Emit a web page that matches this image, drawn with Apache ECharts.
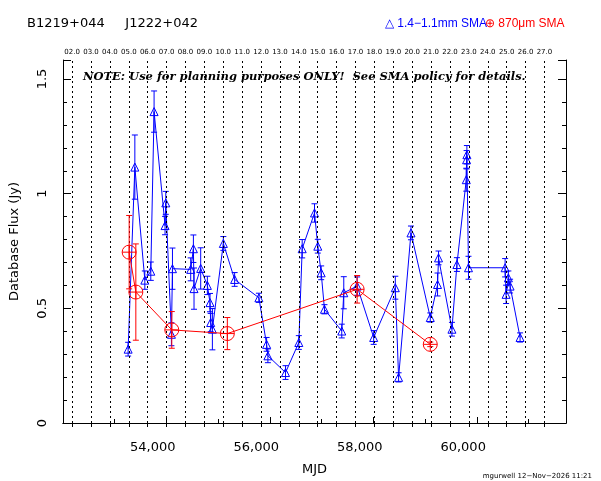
<!DOCTYPE html>
<html><head><meta charset="utf-8">
<script src="https://cdn.jsdelivr.net/npm/echarts@6/dist/echarts.min.js"></script>
<style>html,body{margin:0;padding:0;background:#fff}#c{width:601px;height:481px}</style>
</head><body><div id="c"></div>
<script>
const blueMJD = [53523,53653,53846,53961,54025,54237,54251,54360,54380,54733,54785,54797,54926,55055,55106,55119,55152,55364,55582,56051,56200,56225,56566,56823,56888,57126,57190,57255,57319,57653,57692,57950,58270,58688,58752,58991,59364,59505,59524,59783,59879,60060,60066,60072,60103,60811,60830,60874,60907,61100];
const blueFlux = [0.322,1.116,0.623,0.662,1.358,0.861,0.96,0.387,0.673,0.67,0.76,0.586,0.674,0.6,0.525,0.438,0.409,0.783,0.626,0.546,0.343,0.293,0.22,0.351,0.76,0.916,0.771,0.655,0.496,0.401,0.568,0.597,0.373,0.59,0.199,0.829,0.46,0.604,0.72,0.409,0.691,1.061,1.148,1.17,0.677,0.677,0.561,0.633,0.597,0.373];
const blueErr = [0.03,0.14,0.04,0.04,0.09,0.04,0.05,0.05,0.09,0.05,0.06,0.09,0.09,0.04,0.04,0.04,0.09,0.03,0.03,0.02,0.03,0.03,0.03,0.03,0.04,0.04,0.03,0.03,0.02,0.03,0.07,0.04,0.03,0.05,0.02,0.03,0.02,0.05,0.03,0.03,0.03,0.05,0.04,0.04,0.05,0.04,0.04,0.03,0.03,0.02];
const redMJD = [53543,53672,54367,55441,57950,59364];
const redFlux = [0.745,0.571,0.406,0.39,0.583,0.343];
const redErr = [0.16,0.21,0.08,0.07,0.06,0.01];
const yearTicks = [2,3,4,5,6,7,8,9,10,11,12,13,14,15,16,17,18,19,20,21,22,23,24,25,26,27];
const xMin = 52264, xMax = 61988, yMax = 1.583;
const year5MJD = 53536, yearDays = 365.25;

function errSeries(xs, ys, es, color, z){
  return {type:'custom', z:z, silent:true, data: xs.map((x,i)=>[x, ys[i]-es[i], ys[i]+es[i]]),
    renderItem:(p,api)=>{
      const lo=api.coord([api.value(0),api.value(1)]), hi=api.coord([api.value(0),api.value(2)]);
      const st={stroke:color,lineWidth:1};
      return {type:'group',children:[
        {type:'line',shape:{x1:lo[0],y1:lo[1],x2:hi[0],y2:hi[1]},style:st},
        {type:'line',shape:{x1:lo[0]-3,y1:lo[1],x2:lo[0]+3,y2:lo[1]},style:st},
        {type:'line',shape:{x1:hi[0]-3,y1:hi[1],x2:hi[0]+3,y2:hi[1]},style:st}]};
    }};
}
const ch = echarts.init(document.getElementById('c'));
const font = 'DejaVu Sans';
const ts = (c,s,f)=>({fontFamily:f||font,fontSize:s,fontWeight:'normal',color:c});
ch.setOption({
  animation:false,
  textStyle:{fontFamily:font},
  grid:{left:62,right:35,top:60,bottom:57},
  xAxis:[
    {type:'value',min:xMin,max:xMax,interval:2000,position:'bottom',
     axisLine:{lineStyle:{color:'#000'}},axisTick:{inside:true,length:6,lineStyle:{color:'#000'}},
     minorTick:{show:true,splitNumber:2,length:4,lineStyle:{color:'#000'}},
     axisLabel:{color:'#000',fontSize:13,margin:18,customValues:[54000,56000,58000,60000]},
     splitLine:{show:false},name:'MJD',nameLocation:'middle',nameGap:40,nameTextStyle:{color:'#000',fontSize:13}},
    {type:'value',min:5+(xMin-year5MJD)/yearDays,max:5+(xMax-year5MJD)/yearDays,position:'top',
     axisLine:{lineStyle:{color:'#000'}},axisTick:{inside:true,length:4,customValues:yearTicks,lineStyle:{color:'#000'}},
     axisLabel:{color:'#000',fontSize:7,margin:4,customValues:yearTicks,formatter:v=>String(v).padStart(2,'0')+'.0'},
     splitLine:{show:false}}
  ],
  yAxis:[
    {type:'value',min:0,max:yMax,interval:0.5,
     axisLine:{show:true,lineStyle:{color:'#000'}},axisTick:{inside:true,length:8,lineStyle:{color:'#000'}},
     minorTick:{show:true,splitNumber:5,length:4,lineStyle:{color:'#000'}},
     axisLabel:{color:'#000',fontSize:13,rotate:90,margin:14,formatter:v=>String(v)},
     splitLine:{show:false},name:'Database Flux (Jy)',nameLocation:'middle',nameGap:42,nameTextStyle:{color:'#000',fontSize:13}},
    {type:'value',min:0,max:yMax,interval:0.5,position:'right',
     axisLine:{show:true,lineStyle:{color:'#000'}},axisTick:{inside:true,length:8,lineStyle:{color:'#000'}},
     minorTick:{show:true,splitNumber:5,length:4,lineStyle:{color:'#000'}},
     axisLabel:{show:false},splitLine:{show:false}}
  ],
  title:[
    {text:'B1219+044     J1222+042',left:22,top:12,textStyle:ts('#000',13)},
    {text:'△ 1.4−1.1mm SMA',left:380,top:13,textStyle:ts('#0000ff',12,'Liberation Sans')},
    {text:'⊕ 870μm SMA',left:480,top:13,textStyle:ts('#ff0000',12,'Liberation Sans')},
    {text:'NOTE: Use for planning purposes ONLY!  See SMA policy for details.',left:78,top:66,
     textStyle:{fontFamily:'DejaVu Serif',fontStyle:'italic',fontSize:11.5,fontWeight:'bold',color:'#000'}},
    {text:'mgurwell 12−Nov−2026 11:21',right:4,top:468,textStyle:ts('#000',7)}
  ],
  series:[
    {type:'line',xAxisIndex:1,data:[],markLine:{silent:true,symbol:'none',label:{show:false},
      lineStyle:{color:'#000',type:[2,3],width:1},data:yearTicks.map(y=>({xAxis:y}))}},
    errSeries(blueMJD,blueFlux,blueErr,'#0000ff',3),
    {type:'line',z:4,data:blueMJD.map((x,i)=>[x,blueFlux[i]]),symbol:'triangle',symbolSize:8,
     lineStyle:{color:'#0000ff',width:1},itemStyle:{color:'rgba(0,0,0,0)',borderColor:'#0000ff',borderWidth:1}},
    errSeries(redMJD,redFlux,redErr,'#ff0000',5),
    {type:'line',z:6,data:redMJD.map((x,i)=>[x,redFlux[i]]),
     symbol:'path://M0,10A10,10 0 1,1 20,10A10,10 0 1,1 0,10ZM10,0L10,20M0,10L20,10',symbolSize:14,
     lineStyle:{color:'#ff0000',width:1},itemStyle:{color:'rgba(0,0,0,0)',borderColor:'#ff0000',borderWidth:1}}
  ]
});
</script></body></html>
